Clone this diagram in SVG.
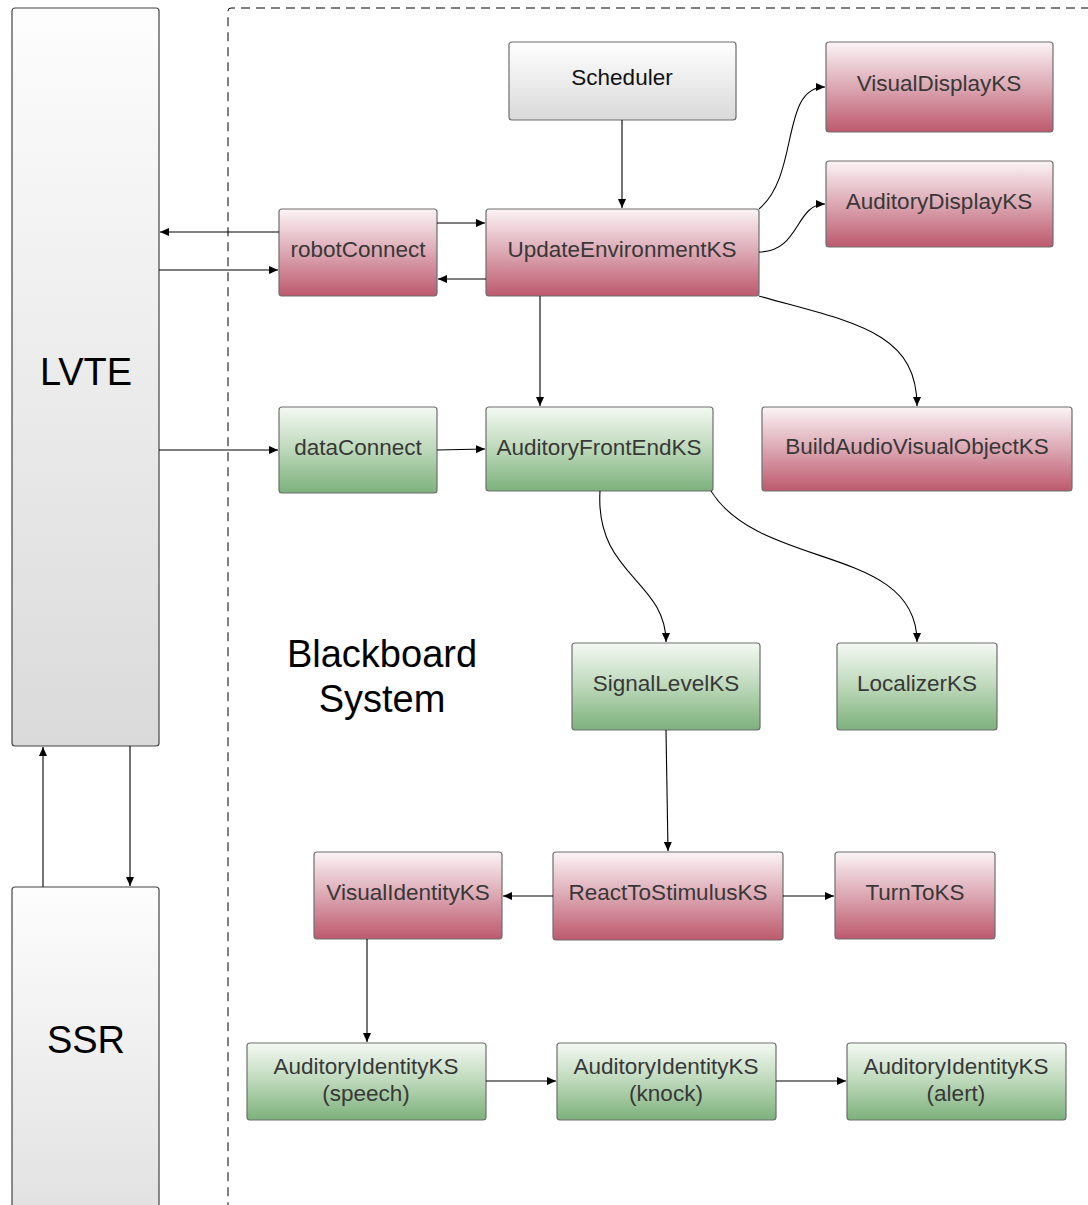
<svg xmlns="http://www.w3.org/2000/svg" width="1088" height="1205" viewBox="0 0 1088 1205">
  <defs>
    <linearGradient id="gRed" x1="0" y1="0" x2="0" y2="1">
      <stop offset="0" stop-color="#fbf4f6"/>
      <stop offset="0.5" stop-color="#dca7b3"/>
      <stop offset="1" stop-color="#bd596d"/>
    </linearGradient>
    <linearGradient id="gGreen" x1="0" y1="0" x2="0" y2="1">
      <stop offset="0" stop-color="#f5f9f4"/>
      <stop offset="0.5" stop-color="#bcd8b9"/>
      <stop offset="1" stop-color="#7db17c"/>
    </linearGradient>
    <linearGradient id="gGray" x1="0" y1="0" x2="0" y2="1">
      <stop offset="0" stop-color="#ffffff"/>
      <stop offset="1" stop-color="#d9d9d9"/>
    </linearGradient>
    <linearGradient id="gSide" x1="0" y1="0" x2="0" y2="1">
      <stop offset="0" stop-color="#fdfdfd"/>
      <stop offset="1" stop-color="#dadada"/>
    </linearGradient>
    <linearGradient id="gSsr" gradientUnits="userSpaceOnUse" x1="0" y1="887" x2="0" y2="1300">
      <stop offset="0" stop-color="#fdfdfd"/>
      <stop offset="1" stop-color="#dadada"/>
    </linearGradient>
    <marker id="arrow" markerWidth="10" markerHeight="8" refX="9" refY="4" orient="auto" markerUnits="userSpaceOnUse">
      <path d="M0,0 L9,4 L0,8 Z" fill="#000"/>
    </marker>
  </defs>
  <style>
    .box { stroke: #6e6e6e; stroke-width: 1.2; }
    .red { fill: url(#gRed); }
    .green { fill: url(#gGreen); }
    .gray { fill: url(#gGray); }
    .lbl { font-family: "Liberation Sans", Arial, sans-serif; font-size: 22.5px; fill: #383838; text-anchor: middle; }
    .big { font-family: "Liberation Sans", Arial, sans-serif; font-size: 38px; fill: #000; text-anchor: middle; }
    .conn { fill: none; stroke: #000; stroke-width: 1.1; marker-end: url(#arrow); }
  </style>

  <rect width="1088" height="1205" fill="#fff"/>

  <!-- Blackboard system boundary -->
  <g id="blackboard">
    <path d="M1090,8 L231,8 Q228,8 228,11 L228,1210" fill="none" stroke="#000" stroke-width="1" stroke-dasharray="9,6"/>
    <text class="big" x="382" y="667">Blackboard</text>
    <text class="big" x="382" y="712">System</text>
  </g>

  <!-- External systems -->
  <g id="lvte">
    <rect x="12" y="8" width="147" height="738" rx="3" fill="url(#gSide)" stroke="#444" stroke-width="1.2"/>
    <text class="big" x="86" y="385">LVTE</text>
  </g>
  <g id="ssr">
    <rect x="12" y="887" width="147" height="340" rx="3" fill="url(#gSsr)" stroke="#444" stroke-width="1.2"/>
    <text class="big" x="86" y="1053">SSR</text>
  </g>

  <!-- Knowledge sources -->
  <g id="scheduler">
    <rect class="box gray" x="509" y="42" width="227" height="78" rx="3"/>
    <text class="lbl" x="622" y="85" style="fill:#111">Scheduler</text>
  </g>
  <g id="visualDisplayKS">
    <rect class="box red" x="826" y="42" width="227" height="90" rx="3"/>
    <text class="lbl" x="939" y="91">VisualDisplayKS</text>
  </g>
  <g id="auditoryDisplayKS">
    <rect class="box red" x="826" y="161" width="227" height="86" rx="3"/>
    <text class="lbl" x="939" y="209">AuditoryDisplayKS</text>
  </g>
  <g id="robotConnect">
    <rect class="box red" x="279" y="209" width="158" height="87" rx="3"/>
    <text class="lbl" x="358" y="257">robotConnect</text>
  </g>
  <g id="updateEnvironmentKS">
    <rect class="box red" x="486" y="209" width="273" height="87" rx="3"/>
    <text class="lbl" x="622" y="257">UpdateEnvironmentKS</text>
  </g>
  <g id="dataConnect">
    <rect class="box green" x="279" y="407" width="158" height="86" rx="3"/>
    <text class="lbl" x="358" y="455">dataConnect</text>
  </g>
  <g id="auditoryFrontEndKS">
    <rect class="box green" x="486" y="407" width="227" height="84" rx="3"/>
    <text class="lbl" x="599" y="455">AuditoryFrontEndKS</text>
  </g>
  <g id="buildAudioVisualObjectKS">
    <rect class="box red" x="762" y="407" width="310" height="84" rx="3"/>
    <text class="lbl" x="917" y="454">BuildAudioVisualObjectKS</text>
  </g>
  <g id="signalLevelKS">
    <rect class="box green" x="572" y="643" width="188" height="87" rx="3"/>
    <text class="lbl" x="666" y="691">SignalLevelKS</text>
  </g>
  <g id="localizerKS">
    <rect class="box green" x="837" y="643" width="160" height="87" rx="3"/>
    <text class="lbl" x="917" y="691">LocalizerKS</text>
  </g>
  <g id="visualIdentityKS">
    <rect class="box red" x="314" y="852" width="188" height="87" rx="3"/>
    <text class="lbl" x="408" y="900">VisualIdentityKS</text>
  </g>
  <g id="reactToStimulusKS">
    <rect class="box red" x="553" y="852" width="230" height="88" rx="3"/>
    <text class="lbl" x="668" y="900">ReactToStimulusKS</text>
  </g>
  <g id="turnToKS">
    <rect class="box red" x="835" y="852" width="160" height="87" rx="3"/>
    <text class="lbl" x="915" y="900">TurnToKS</text>
  </g>
  <g id="auditoryIdentitySpeech">
    <rect class="box green" x="247" y="1043" width="239" height="77" rx="3"/>
    <text class="lbl" x="366" y="1074">AuditoryIdentityKS</text>
    <text class="lbl" x="366" y="1101">(speech)</text>
  </g>
  <g id="auditoryIdentityKnock">
    <rect class="box green" x="557" y="1043" width="219" height="77" rx="3"/>
    <text class="lbl" x="666" y="1074">AuditoryIdentityKS</text>
    <text class="lbl" x="666" y="1101">(knock)</text>
  </g>
  <g id="auditoryIdentityAlert">
    <rect class="box green" x="847" y="1043" width="219" height="77" rx="3"/>
    <text class="lbl" x="956" y="1074">AuditoryIdentityKS</text>
    <text class="lbl" x="956" y="1101">(alert)</text>
  </g>

  <!-- Connectors -->
  <g id="connectors">
    <path class="conn" d="M622,120 L622,208"/>
    <path class="conn" d="M279,232 L160,232"/>
    <path class="conn" d="M159,270 L278,270"/>
    <path class="conn" d="M437,223 L485,223"/>
    <path class="conn" d="M486,279 L438,279"/>
    <path class="conn" d="M759,209 C800,175 780,87 825,87"/>
    <path class="conn" d="M759,252 C800,252 795,204 825,204"/>
    <path class="conn" d="M759,296 C850,322 917,330 917,406"/>
    <path class="conn" d="M540,296 L540,406"/>
    <path class="conn" d="M159,450 L278,450"/>
    <path class="conn" d="M437,450 L485,449"/>
    <path class="conn" d="M600,491 C595,575 666,580 666,642"/>
    <path class="conn" d="M711,491 C760,570 917,545 917,642"/>
    <path class="conn" d="M666,730 L668,851"/>
    <path class="conn" d="M553,896 L503,896"/>
    <path class="conn" d="M783,896 L834,896"/>
    <path class="conn" d="M367,939 L367,1042"/>
    <path class="conn" d="M486,1081 L556,1081"/>
    <path class="conn" d="M776,1081 L846,1081"/>
    <path class="conn" d="M130,746 L130,886"/>
    <path class="conn" d="M43,887 L43,747"/>
  </g>
</svg>
